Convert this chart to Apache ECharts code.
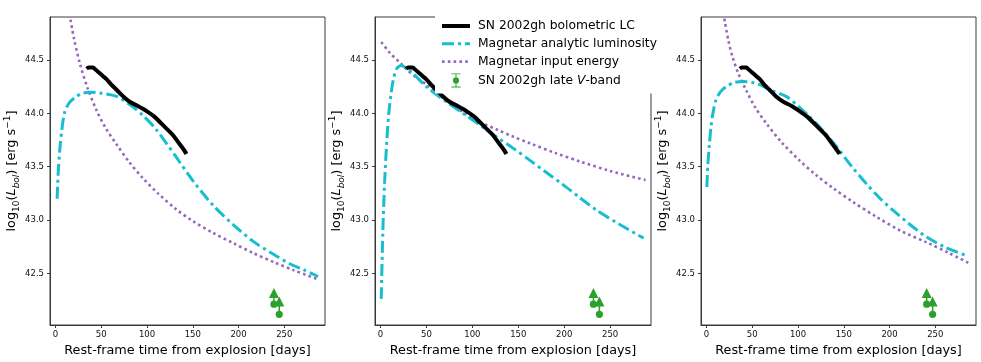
<!DOCTYPE html>
<html>
<head>
<meta charset="utf-8">
<script src="https://cdn.jsdelivr.net/npm/echarts@6/dist/echarts.min.js"></script>
<style>
html,body{margin:0;padding:0;background:#fff;}
#chart{width:981px;height:362px;}
</style>
</head>
<body>
<div id="chart"></div>
<script>
// ---------- data ----------
const xTicks = [0, 50, 100, 150, 200, 250];
const yTicks = [42.5, 43.0, 43.5, 44.0, 44.5];

// bolometric light curve (log10 L) and rest-frame days for each panel
const lcLogL  = [44.42, 44.43, 44.43, 44.43, 44.41, 44.38, 44.35, 44.32, 44.27, 44.22, 44.16, 44.11, 44.07, 44.02, 43.97, 43.92, 43.86, 43.80, 43.72, 43.65, 43.62];
const lcDaysA = [34, 36, 38, 41, 44, 48, 52, 56, 61, 67, 74, 81, 90, 100, 108, 114, 121, 128, 135, 141, 143];
const lcDaysB = [28, 30, 32, 35, 38, 42, 46, 50, 55, 61, 68, 75, 84, 94, 102, 108, 115, 122, 129, 135, 137];
const lcDaysC = [36.5, 38.5, 40.5, 43.5, 46.5, 50.5, 54.5, 58.5, 63, 69, 76, 84, 93, 102, 110, 116, 123, 130, 137, 143, 145.5];

// magnetar analytic luminosity [day, log10 L]
const magLumA = [[1.8,43.20],[3,43.45],[4.7,43.66],[7,43.85],[10,44.01],[15,44.10],[23,44.16],[30,44.19],[38,44.20],[50,44.19],[66.7,44.16],[80,44.09],[95.8,43.98],[110,43.85],[122,43.71],[132,43.59],[150,43.37],[172,43.14],[195,42.95],[216,42.80],[236,42.69],[256,42.59],[272,42.53],[287,42.47]];
const magLumB = [[0.8,42.26],[2.5,42.88],[4.4,43.34],[6.9,43.75],[9,44.00],[11.6,44.19],[14,44.32],[17,44.41],[20,44.44],[23,44.45],[27,44.43],[35,44.38],[50,44.25],[70,44.12],[90,44.00],[110,43.88],[126.4,43.78],[145,43.67],[162.7,43.56],[180,43.45],[199,43.33],[217,43.21],[235.6,43.09],[260,42.96],[286.5,42.83]];
const magLumC = [[0.4,43.31],[1.5,43.52],[3,43.69],[5,43.88],[7,44.00],[10.3,44.125],[15,44.20],[21.3,44.25],[30,44.29],[40,44.30],[50,44.29],[57.8,44.27],[70,44.22],[87,44.16],[100,44.07],[112.6,43.97],[127,43.84],[141.9,43.69],[158,43.51],[174.8,43.34],[190,43.20],[204,43.09],[222,42.96],[240.6,42.84],[262,42.74],[286.2,42.66]];

// magnetar input energy [day, log10 L]
const magInA = [[16.4,44.88],[20,44.71],[26.6,44.47],[35,44.24],[44.8,44.03],[55,43.86],[66.7,43.71],[80,43.55],[95.8,43.39],[112,43.25],[132,43.10],[150,42.99],[172,42.88],[195,42.78],[216,42.69],[240,42.60],[260,42.53],[288,42.44]];
const magInB = [[0.8,44.67],[10,44.57],[20.7,44.48],[30,44.40],[40,44.33],[50,44.27],[70,44.13],[90,44.01],[108,43.92],[126.4,43.85],[145,43.78],[162.7,43.72],[190,43.63],[217,43.55],[250,43.46],[288.6,43.375]];
const magInC = [[19.5,44.89],[24,44.68],[28.5,44.53],[35,44.37],[43.2,44.22],[53,44.06],[65.1,43.91],[82,43.73],[101.6,43.56],[120,43.42],[138.2,43.30],[160,43.17],[185.7,43.03],[212,42.90],[240.6,42.79],[265,42.69],[288,42.59]];

// late V-band points [day, log10 L, lower-limit arrow top]
const vbandA = [[238.7, 42.21, 42.31], [244.5, 42.115, 42.23]];
const vbandB = [[231.8, 42.21, 42.31], [238.3, 42.115, 42.23]];
const vbandC = [[240.6, 42.21, 42.31], [247.1, 42.115, 42.23]];

const names = ['SN 2002gh bolometric LC', 'Magnetar analytic luminosity', 'Magnetar input energy', 'SN 2002gh late V-band'];

// ---------- styling ----------
const FONT = 'DejaVu Sans';
const BLACK = '#000000', CYAN = '#17becf', PURPLE = '#9467bd', GREEN = '#2ca02c';
const FRAME = '#3a3a3a';

const grids = [
  {left: 50, top: 17, width: 275, height: 308},
  {left: 375, top: 17, width: 276, height: 308},
  {left: 701, top: 17, width: 275, height: 308}
];

const yName = '{n|log}{s|10}{n|(}{i|L}{si|bol}{n|) [erg s}{p|−1}{n|]}';
const yRich = {
  n: {fontFamily: FONT, fontSize: 12.8, color: '#000', lineHeight: 18},
  s: {fontFamily: FONT, fontSize: 9, color: '#000', lineHeight: 11, verticalAlign: 'bottom'},
  i: {fontFamily: FONT, fontSize: 12.8, fontStyle: 'italic', color: '#000', lineHeight: 18},
  si: {fontFamily: FONT, fontSize: 9, fontStyle: 'italic', color: '#000', lineHeight: 11, verticalAlign: 'bottom'},
  p: {fontFamily: FONT, fontSize: 9, color: '#000', lineHeight: 10, verticalAlign: 'top'}
};

function xAxis(i) {
  return {
    type: 'value', gridIndex: i, min: -6, max: 294.5,
    axisLine: {show: true, onZero: false, lineStyle: {color: FRAME, width: 1}},
    axisTick: {show: true, length: 3, customValues: xTicks, lineStyle: {color: FRAME}},
    axisLabel: {customValues: xTicks, fontFamily: FONT, fontSize: 8.5, color: '#111', margin: 5},
    splitLine: {show: false},
    name: 'Rest-frame time from explosion [days]', nameLocation: 'middle', nameGap: 13,
    nameTextStyle: {fontFamily: FONT, fontSize: 12.8, color: '#000'}
  };
}
function yAxis(i) {
  return {
    type: 'value', gridIndex: i, min: 42.015, max: 44.905,
    axisLine: {show: true, onZero: false, lineStyle: {color: FRAME, width: 1}},
    axisTick: {show: true, length: 3, customValues: yTicks, lineStyle: {color: FRAME}},
    axisLabel: {customValues: yTicks, fontFamily: FONT, fontSize: 8.5, color: '#111', margin: 6,
                formatter: v => v.toFixed(1)},
    splitLine: {show: false},
    name: yName, nameLocation: 'middle', nameGap: 21, nameRotate: 90,
    nameTextStyle: {rich: yRich}
  };
}

function vbandRender(params, api) {
  const p = api.coord([api.value(0), api.value(1)]);
  const q = api.coord([api.value(0), api.value(2)]);
  return {
    type: 'group',
    children: [
      {type: 'line', shape: {x1: p[0], y1: p[1], x2: q[0], y2: q[1]}, style: {stroke: GREEN, lineWidth: 1.5}},
      {type: 'polygon', shape: {points: [[q[0], q[1] - 5.5], [q[0] - 5, q[1] + 4.5], [q[0] + 5, q[1] + 4.5]]}, style: {fill: GREEN}},
      {type: 'circle', shape: {cx: p[0], cy: p[1], r: 3.6}, style: {fill: GREEN}}
    ]
  };
}

const series = [];
const panels = [
  {lcx: lcDaysA, lum: magLumA, inp: magInA, vb: vbandA},
  {lcx: lcDaysB, lum: magLumB, inp: magInB, vb: vbandB},
  {lcx: lcDaysC, lum: magLumC, inp: magInC, vb: vbandC}
];
panels.forEach((p, i) => {
  series.push({
    name: names[2], type: 'line', xAxisIndex: i, yAxisIndex: i, showSymbol: false, symbol: 'none',
    data: p.inp, smooth: 0.3, clip: true, z: 2,
    lineStyle: {color: PURPLE, width: 2.6, type: [2.6, 3.2], cap: 'butt'}, itemStyle: {color: PURPLE}
  });
  series.push({
    name: names[1], type: 'line', xAxisIndex: i, yAxisIndex: i, showSymbol: false, symbol: 'none',
    data: p.lum, smooth: 0.3, clip: true, z: 3,
    lineStyle: {color: CYAN, width: 3, type: [12, 4, 3, 4], cap: 'butt'}, itemStyle: {color: CYAN}
  });
  series.push({
    name: names[0], type: 'line', xAxisIndex: i, yAxisIndex: i, showSymbol: false, symbol: 'none',
    data: p.lcx.map((d, k) => [d, lcLogL[k]]), smooth: 0.3, clip: true, z: 4,
    lineStyle: {color: BLACK, width: 4}, itemStyle: {color: BLACK}
  });
  series.push({
    name: names[3], type: 'custom', xAxisIndex: i, yAxisIndex: i, renderItem: vbandRender,
    encode: {x: 0, y: [1, 2]}, data: p.vb, z: 5, itemStyle: {color: GREEN}
  });
});

const hiddenSymbol = {opacity: 0, color: 'rgba(0,0,0,0)', borderWidth: 0};

const chart = echarts.init(document.getElementById('chart'), null, {renderer: 'canvas'});
chart.setOption({
  backgroundColor: '#ffffff',
  animation: false,
  grid: grids.map(g => Object.assign({show: true, borderColor: FRAME, borderWidth: 1, backgroundColor: 'transparent', containLabel: false}, g)),
  xAxis: [0, 1, 2].map(xAxis),
  yAxis: [0, 1, 2].map(yAxis),
  legend: {
    orient: 'vertical', left: 435, top: 12, z: 10,
    padding: [8, 8, 6, 5],
    backgroundColor: '#ffffff', borderWidth: 0,
    itemWidth: 28, itemHeight: 14, itemGap: 5.8,
    selectedMode: false,
    data: [
      {name: names[0], itemStyle: hiddenSymbol, lineStyle: {width: 4}},
      {name: names[1], itemStyle: hiddenSymbol, lineStyle: {width: 3}},
      {name: names[2], itemStyle: hiddenSymbol, lineStyle: {width: 2.6}},
      {name: names[3], icon: 'path://M0,0H10V1H0Z M4.5,1H5.5V14H4.5Z M0,14H10V15H0Z M5,4.2A3.3,3.3 0 1 1 4.99,4.2Z'}
    ],
    formatter: n => n === names[3] ? '{a|SN 2002gh late }{i|V}{a|-band}' : '{a|' + n + '}',
    textStyle: {
      fontFamily: FONT, fontSize: 12.3, color: '#000', padding: [0, 0, 0, 3],
      rich: {
        a: {fontFamily: FONT, fontSize: 12.3, color: '#000'},
        i: {fontFamily: FONT, fontSize: 12.3, fontStyle: 'italic', color: '#000'}
      }
    }
  },
  series: series
});
</script>
</body>
</html>
